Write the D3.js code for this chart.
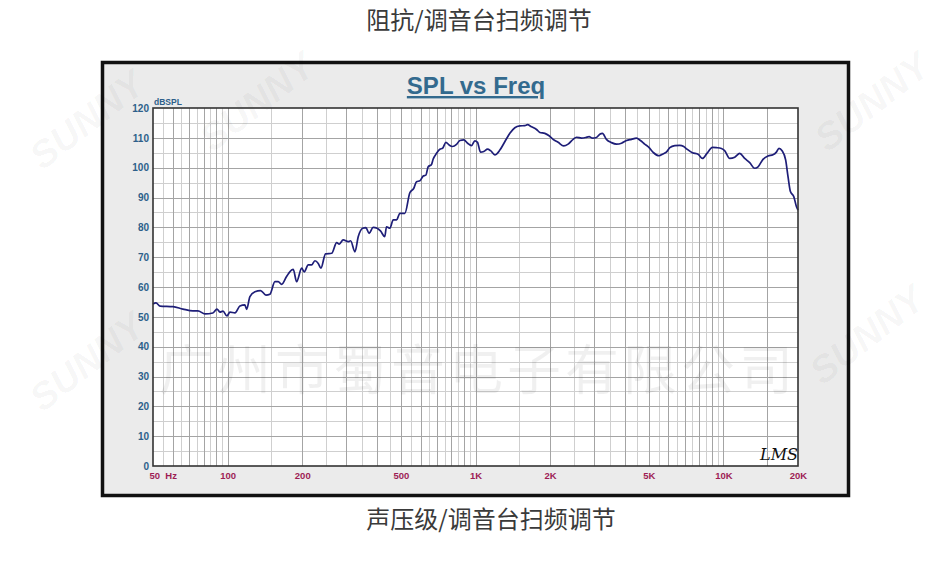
<html>
  <head>
    <meta charset="UTF-8">
    <style>
      body { margin: 0; background: #fff; }
      svg { display: block; }
    </style>
  </head>
  <body>
    <script src="https://d3js.org/d3.v7.min.js"></script>
    <script>

var width = 950;
var height = 566;

// frequency (Hz) / SPL (dB)
var freqs = [50, 51.4, 53.4, 60.2, 66, 72.5, 75.9, 81, 87.2, 90.6, 93.1, 95.8, 99.4, 102.2, 107.1,
    112.1, 117.4, 119.3, 123, 128.9, 135.8, 142.8, 148.1, 155.2, 160, 165.2, 172.9, 181.2, 184,
    189.8, 199, 203.7, 211.5, 218.1, 225, 232.1, 237.9, 248.3, 262.9, 275.4, 282, 292.5, 306.7,
    313.5, 326.3, 336.6, 350.4, 361.3, 372.3, 386.4, 401, 413.6, 430.5, 437.4, 451.6, 465.6,
    480.6, 495.4, 518.8, 543.4, 563.8, 578.2, 596.7, 615.2, 630.6, 644.2, 664.7, 674.5, 696.4,
    718.3, 736.6, 759.4, 782.8, 807.5, 838.3, 864.6, 897.8, 929, 963.9, 994, 1019, 1047, 1080,
    1118, 1150, 1197, 1254, 1313, 1376, 1441, 1510, 1581, 1621, 1682, 1763, 1818, 1904, 1981,
    2056, 2154, 2270, 2364, 2476, 2555, 2676, 2785, 2872, 2964, 3075, 3172, 3252, 3374, 3537,
    3705, 3882, 4066, 4258, 4460, 4627, 4814, 5006, 5229, 5501, 5709, 5887, 6080, 6366, 6667,
    6918, 7132, 7500, 7903, 8235, 8587, 9038, 9377, 9820, 10118, 10610, 11110, 11640, 12190,
    12770, 13370, 13800, 14450, 15140, 15850, 16360, 16760, 17250, 17830, 18230, 18640, 19230,
    19720, 20000];
var spl = [54.3, 54.7, 53.6, 53.4, 52.6, 52, 52, 51, 51.3, 52.6, 51.6, 51.9, 50.3, 51.6, 51.3,
    53.6, 54, 52.5, 56.8, 58.4, 58.8, 57.3, 57.6, 61.8, 61.8, 60.9, 63.5, 65.7, 65.9,
    61.8, 66.3, 65.1, 67.4, 67.4, 68.8, 67.9, 66.3, 71.1, 71.3, 74.9, 74.4, 75.8, 75.2,
    75.5, 71.8, 76.9, 79.7, 79.9, 78, 80, 79.7, 78.8, 76.9, 80.2, 79.7, 82.5,
    82.5, 84.7, 84.7, 91.6, 93.1, 95.3, 95.6, 97.2, 97.5, 100.3, 101.1, 102.8, 104.8,
    106.2, 106.5, 108.5, 107.6, 107.1, 107.8, 109.1, 109.3, 108.2, 107.4, 109, 108.5, 105.2, 105.4,
    106.2, 105.7, 104.3, 105.9, 108.7, 111.5, 113.4, 114, 114.1, 114.4, 113.7, 112.8, 111.8, 111.5, 110.7,
    109.5, 108.5, 107.3, 107.9, 109.5, 110.2, 109.9, 110.1, 110.4, 109.9, 110.1, 111.2, 111.5, 109.5, 108.4,
    107.9, 108.2, 109.1, 109.5, 109.9, 109.1, 107.9, 106.8, 105, 104, 104.6, 105.2, 106.7, 107.4, 107.5,
    107.1, 106.2, 105, 104.5, 103.1, 104.8, 106.8, 106.7, 106.4, 105.7, 103.1, 103.5, 104.8, 103.1,
    101.7, 99.8, 100.3, 102.8, 103.9, 104.3, 105.2, 106.5, 105.7, 102.6, 97, 92, 90.3,
    86.9, 85.8];

var xTickValues = [50, 100, 200, 500, 1000, 2000, 5000, 10000, 20000];
var xTickLabels = ["50  Hz", "100", "200", "500", "1K", "2K", "5K", "10K", "20K"];
var yTickValues = [0, 10, 20, 30, 40, 50, 60, 70, 80, 90, 100, 110, 120];

var svg = d3.select("body").append("svg")
    .attr("width", width).attr("height", height);

// captions
svg.append("text")
    .attr("x", 479).attr("y", 29)
    .attr("text-anchor", "middle")
    .style("font-family", "'Noto Sans CJK SC', sans-serif")
    .style("font-size", "24px")
    .style("fill", "#3a3a3a")
    .text("阻抗/调音台扫频调节");

svg.append("text")
    .attr("x", 491).attr("y", 528)
    .attr("text-anchor", "middle")
    .style("font-family", "'Noto Sans CJK SC', sans-serif")
    .style("font-size", "24px")
    .style("fill", "#3a3a3a")
    .text("声压级/调音台扫频调节");

// chart frame
svg.append("rect")
    .attr("x", 102.5).attr("y", 62.5)
    .attr("width", 746).attr("height", 433)
    .style("fill", "#ebebeb")
    .style("stroke", "#111")
    .style("stroke-width", 3.5);

var plot = { left: 153, right: 798, top: 108, bottom: 466 };

var x = d3.scaleLog().domain([50, 20000]).range([plot.left, plot.right]);
var y = d3.scaleLinear().domain([0, 120]).range([plot.bottom, plot.top]);

svg.append("rect")
    .attr("x", plot.left).attr("y", plot.top)
    .attr("width", plot.right - plot.left).attr("height", plot.bottom - plot.top)
    .style("fill", "#fff");

// grid
var g = svg.append("g");

var vMinor = d3.range(55, 100, 10)
    .concat(d3.range(150, 1000, 100))
    .concat(d3.range(1500, 10000, 1000));
var vMajor = d3.range(60, 100, 10)
    .concat(d3.range(100, 1000, 100))
    .concat(d3.range(1000, 10000, 1000))
    .concat([10000, 15000]);

g.selectAll(".hminor").data(d3.range(5, 120, 10)).enter().append("line")
    .attr("x1", plot.left).attr("x2", plot.right)
    .attr("y1", function(d) { return Math.round(y(d)) + 0.5; })
    .attr("y2", function(d) { return Math.round(y(d)) + 0.5; })
    .style("stroke", "#cfcfcf");

g.selectAll(".vminor").data(vMinor).enter().append("line")
    .attr("y1", plot.top).attr("y2", plot.bottom)
    .attr("x1", function(d) { return Math.round(x(d)) + 0.5; })
    .attr("x2", function(d) { return Math.round(x(d)) + 0.5; })
    .style("stroke", "#cfcfcf");

g.selectAll(".hmajor").data(d3.range(10, 120, 10)).enter().append("line")
    .attr("x1", plot.left).attr("x2", plot.right)
    .attr("y1", function(d) { return Math.round(y(d)) + 0.5; })
    .attr("y2", function(d) { return Math.round(y(d)) + 0.5; })
    .style("stroke", "#a4a4a4");

g.selectAll(".vmajor").data(vMajor).enter().append("line")
    .attr("y1", plot.top).attr("y2", plot.bottom)
    .attr("x1", function(d) { return Math.round(x(d)) + 0.5; })
    .attr("x2", function(d) { return Math.round(x(d)) + 0.5; })
    .style("stroke", "#a4a4a4");

// watermarks
var wm = svg.append("g").style("pointer-events", "none");
wm.append("text")
    .attr("x", 478).attr("y", 390)
    .attr("text-anchor", "middle")
    .style("font-family", "'Noto Sans CJK SC', sans-serif")
    .style("font-size", "54px")
    .style("letter-spacing", "4px")
    .style("fill", "#000")
    .style("fill-opacity", 0.06)
    .text("广州市蜀音电子有限公司");

[[95, 130], [265, 112], [880, 112], [95, 372], [875, 345]].forEach(function(p) {
    wm.append("text")
        .attr("transform", "translate(" + p + ") rotate(-38)")
        .attr("text-anchor", "middle")
        .style("font-family", "'Liberation Sans', Arial, sans-serif")
        .style("font-weight", "bold")
        .style("font-style", "italic")
        .style("font-size", "38px")
        .style("fill", "#000")
        .style("fill-opacity", 0.04)
        .text("SUNNY");
});

// curve
var line = d3.line()
    .x(function(d) { return x(d[0]); })
    .y(function(d) { return y(d[1]); })
    .curve(d3.curveMonotoneX);

svg.append("path")
    .datum(d3.zip(freqs, spl))
    .attr("d", line)
    .style("fill", "none")
    .style("stroke", "#1e1e78")
    .style("stroke-width", 1.7)
    .style("stroke-linejoin", "round");

// plot border
svg.append("rect")
    .attr("x", plot.left).attr("y", plot.top)
    .attr("width", plot.right - plot.left).attr("height", plot.bottom - plot.top)
    .style("fill", "none")
    .style("stroke", "#333")
    .style("stroke-width", 1.6);

// axes
var yAxis = d3.axisLeft(y).tickValues(yTickValues).tickSize(0).tickPadding(4);
var ya = svg.append("g").attr("transform", "translate(" + plot.left + ",0)").call(yAxis);
ya.select(".domain").remove();
ya.selectAll("text")
    .style("font-family", "'Liberation Sans', Arial, sans-serif")
    .style("font-weight", "bold")
    .style("font-size", "10px")
    .style("fill", "#2d5f8a");

var xAxis = d3.axisBottom(x).tickValues(xTickValues).tickSize(0).tickPadding(6)
    .tickFormat(function(d, i) { return xTickLabels[i]; });
var xa = svg.append("g").attr("transform", "translate(0," + plot.bottom + ")").call(xAxis);
xa.select(".domain").remove();
xa.selectAll("text")
    .style("font-family", "'Liberation Sans', Arial, sans-serif")
    .style("font-weight", "bold")
    .style("font-size", "9.5px")
    .style("fill", "#9e1d55")
    .style("white-space", "pre")
    .attr("text-anchor", function(d) { return d === 50 ? "start" : "middle"; })
    .attr("x", function(d) { return d === 50 ? -4 : 0; });

svg.append("text")
    .attr("x", plot.left + 1).attr("y", plot.top - 3)
    .style("font-family", "'Liberation Sans', Arial, sans-serif")
    .style("font-weight", "bold")
    .style("font-size", "8.5px")
    .style("fill", "#2d5f8a")
    .text("dBSPL");

// title
svg.append("text")
    .attr("x", 476).attr("y", 94)
    .attr("text-anchor", "middle")
    .style("font-family", "'Liberation Sans', Arial, sans-serif")
    .style("font-weight", "bold")
    .style("font-size", "24px")
    .style("fill", "#336a8e")
    .style("text-decoration", "underline")
    .text("SPL vs Freq");

// LMS mark
svg.append("text")
    .attr("x", 760).attr("y", 460)
    .style("font-family", "'DejaVu Serif', serif")
    .style("font-style", "italic")
    .style("font-size", "16px")
    .style("fill", "#111")
    .text("LMS");

    </script>
  </body>
</html>
